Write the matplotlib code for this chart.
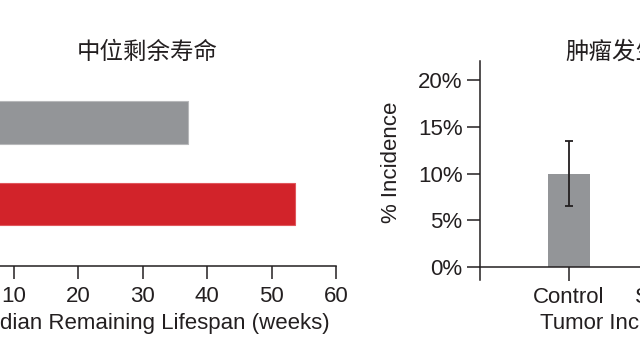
import matplotlib
matplotlib.use("Agg")
import matplotlib.pyplot as plt
from matplotlib.ticker import PercentFormatter

plt.rcParams['font.family'] = ['Liberation Sans', 'Noto Sans CJK SC', 'DejaVu Sans']
TXT = '#231f20'
plt.rcParams['text.color'] = TXT
plt.rcParams['axes.labelcolor'] = TXT
plt.rcParams['xtick.color'] = TXT
plt.rcParams['ytick.color'] = TXT

# ---- data ----
life_groups = ['Control', 'Treatment']
life_weeks = [37.0, 53.6]
life_colors = ['#939598', '#d2232a']
life_ticks = [0, 10, 20, 30, 40, 50, 60]

tumor_groups = ['Control', 'Sirtuin']
tumor_pct = [10.0, 5.0]
tumor_err = [3.45, 2.5]
tumor_colors = ['#939598', '#d2232a']
tumor_ticks = [0, 5, 10, 15, 20]

W, H = 640, 364
fig = plt.figure(figsize=(6.4, 3.64), dpi=100)

def px_axes(x0, x1, ytop, ybot):
    return fig.add_axes([x0 / W, (H - ybot) / H, (x1 - x0) / W, (ybot - ytop) / H])

FS = 16
TFS = 16.9

# ---- left: median remaining lifespan ----
ax1 = px_axes(-50.4, 336, 60, 266)
ypos = [1, 0]
ax1.barh(ypos, life_weeks, height=0.52, color=life_colors,
         edgecolor=['#b7b8ba', '#e0575c'], linewidth=0.8)
ax1.set_ylim(-0.761, 1.767)
ax1.set_xlim(0, 60)
ax1.set_xticks(life_ticks)
ax1.set_yticks(ypos)
ax1.set_yticklabels(life_groups)
for s in ['top', 'right']:
    ax1.spines[s].set_visible(False)
for s in ['left', 'bottom']:
    ax1.spines[s].set_linewidth(1.1)
    ax1.spines[s].set_color(TXT)
ax1.tick_params(axis='x', length=9.5, width=1.1, pad=5, labelsize=FS)
ax1.tick_params(axis='y', length=0, labelsize=FS)
ax1.set_xlabel('Median Remaining Lifespan (weeks)', fontsize=FS)
ax1.xaxis.set_label_coords(0.516, -0.228)
fig.text(147 / W, (H - 52) / H, '中位剩余寿命', fontsize=TFS,
         ha='center', va='center')

# ---- right: tumor incidence ----
ax2 = px_axes(480, 756, 61.4, 280)
xpos = [0, 1]
ax2.bar(xpos, tumor_pct, width=0.43, color=tumor_colors,
        yerr=tumor_err, capsize=3, error_kw=dict(ecolor='#231f20', elinewidth=1.3, capthick=1.3))
ax2.set_xlim(-0.908, 1.908)
ax2.set_ylim(-1.4, 22)
ax2.set_yticks(tumor_ticks)
ax2.yaxis.set_major_formatter(PercentFormatter(decimals=0))
ax2.set_xticks(xpos)
ax2.set_xticklabels(tumor_groups)
for s in ['top', 'right']:
    ax2.spines[s].set_visible(False)
ax2.spines['bottom'].set_position(('data', 0))
for s in ['left', 'bottom']:
    ax2.spines[s].set_linewidth(1.1)
    ax2.spines[s].set_color(TXT)
ax2.tick_params(axis='x', length=9.8, width=1.1, pad=5, labelsize=FS)
ax2.tick_params(axis='y', length=9.5, width=1.1, pad=3, labelsize=FS)
ax2.set_ylabel('% Incidence', fontsize=FS)
ax2.yaxis.set_label_coords(-0.284, 0.54)
ax2.set_xlabel('Tumor Incidence', fontsize=FS)
ax2.xaxis.set_label_coords(0.515, -0.152)
fig.text(624 / W, (H - 52) / H, '肿瘤发生率', fontsize=TFS,
         ha='center', va='center')

fig.savefig('out.png', dpi=100)
